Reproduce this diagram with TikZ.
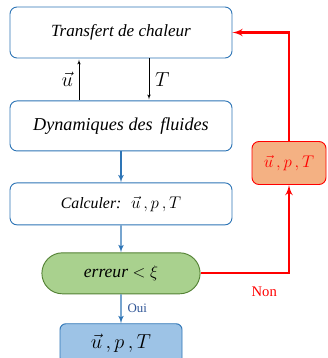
\documentclass[tikz,border=0pt]{standalone}
\usepackage{fontspec}
\setmainfont{Liberation Serif}
\usetikzlibrary{arrows, shapes.misc, positioning}
\definecolor{bleubord}{HTML}{2E75B6}
\definecolor{bleufond}{HTML}{9DC3E6}
\definecolor{vertbord}{HTML}{548235}
\definecolor{vertfond}{HTML}{A9D18E}
\definecolor{orfond}{HTML}{F4B183}
\definecolor{bleutexte}{HTML}{2F5597}

\begin{document}
\begin{tikzpicture}[auto,
  block/.style={rectangle, draw=bleubord, thick, rounded corners=6pt, minimum width=6.66cm, minimum height=1.5cm, font=\fontsize{15.5}{18}\selectfont\itshape},
  test/.style={rounded rectangle, draw=vertbord, fill=vertfond, thick, minimum width=4.98cm, minimum height=1.23cm, font=\fontsize{15}{18}\selectfont},
  result/.style={rectangle, draw=bleubord, fill=bleufond, thick, rounded corners=5pt, minimum width=3.66cm, minimum height=1.2cm, font=\fontsize{16}{18}\selectfont},
  retour/.style={rectangle, draw=red, fill=orfond, thick, rounded corners=6pt, minimum width=2.22cm, minimum height=1.29cm, text=red, font=\fontsize{15}{17}\selectfont},
  line/.style={draw=bleubord, line width=1.2pt, -latex'},
  fine/.style={draw, -latex', shorten >=1pt},
  boucle/.style={draw=red, line width=2pt, -latex'}]

  \useasboundingbox (0,0) rectangle (9.81,-10.74);

  \node [block, minimum height=1.53cm] (chaleur) at (3.63,-0.975) {\fontsize{14.6}{17}\selectfont Transfert de chaleur};
  \node [block, below=1.26cm of chaleur] (fluides) {Dynamiques des \,fluides};
  \node [block, minimum height=1.26cm, below=0.93cm of fluides, font=\fontsize{13.5}{15}\selectfont] (calcul) {\textit{Calculer:} \;{\fontsize{15.5}{17}\selectfont$\vec{u}\,,p\,,T$}};
  \node [test, below=0.81cm of calcul] (erreur) {\textit{erreur} $<\xi$};
  \node [result, below=0.87cm of erreur] (sortie) {$\vec{u}\,,p\,,T$};
  \node [retour] (maj) at (8.67,-4.89) {$\vec{u}\,,p\,,T$};

  % couplage
  \path [fine] ([xshift=-1.26cm]fluides.north) -- node [left, inner sep=5pt, font=\fontsize{17}{19}\selectfont] {$\vec{u}$} ([xshift=-1.26cm]chaleur.south);
  \path [fine] ([xshift=0.84cm]chaleur.south) -- node [right, inner sep=5pt, font=\fontsize{17}{19}\selectfont] {$T$} ([xshift=0.84cm]fluides.north);

  \path [line] (fluides) -- (calcul);
  \path [line] (calcul) -- (erreur);
  \path [line] (erreur) -- node [text=bleutexte, inner sep=5pt, font=\fontsize{11}{13}\selectfont] {Oui} (sortie);

  % boucle
  \path [boucle] (erreur.east) -| node [pos=0.36, below=0.25cm, text=red, font=\fontsize{12.5}{14}\selectfont] {Non} (maj.south);
  \path [boucle] (maj.north) |- (chaleur.east);
\end{tikzpicture}
\end{document}
